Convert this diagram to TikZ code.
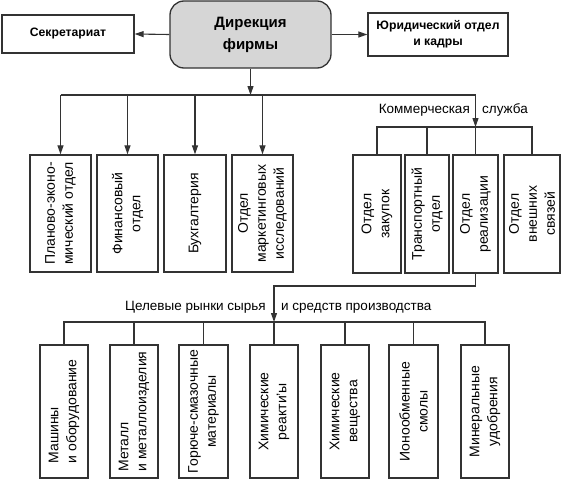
\documentclass[tikz,border=0pt]{standalone}
\usepackage{fontspec}
\setmainfont{Liberation Sans}
\usetikzlibrary{arrows.meta}
\definecolor{ink}{HTML}{333333}
\definecolor{dirfill}{HTML}{D6D6D6}
\begin{document}
\begin{tikzpicture}[x=1pt,y=-1pt,
  line/.style={draw=ink, line width=1.1pt},
  arr/.style={line, -{Triangle[length=9pt,width=6pt]}},
  box/.style={draw=ink, line width=1.3pt, inner sep=0pt, fill=white},
  topbox/.style={box, font=\fontsize{12.2}{16}\selectfont\bfseries, align=center},
  vt/.style={rotate=90, align=center, inner sep=0pt, font=\fontsize{14}{18}\selectfont},
  vtl/.style={vt, align=left},
  lbl/.style={inner sep=0pt, font=\fontsize{13.5}{16}\selectfont}]
\useasboundingbox (0,0) rectangle (566,479);
% top row
\node[topbox, minimum width=132pt, minimum height=38pt] (sec) at (68,34) {Секретариат};
\node[box, fill=dirfill, rounded corners=14pt, minimum width=161pt, minimum height=67pt,
  align=center, font=\fontsize{15}{22}\selectfont\bfseries] (dir) at (250.5,34.5) {Дирекция\\фирмы};
\node[topbox, minimum width=140pt, minimum height=43pt] (jur) at (438,34.5) {Юридический отдел\\и кадры};
\draw[arr] (dir.west) -- (sec.east);
\draw[arr] (dir.east) -- (jur.west);
% middle row boxes
\node[box, minimum width=61pt, minimum height=117pt] (b1) at (60.5,213.5) {};
\node[box, minimum width=61pt, minimum height=117pt] (b2) at (127.5,213.5) {};
\node[box, minimum width=62pt, minimum height=117pt] (b3) at (195,213.5) {};
\node[box, minimum width=61pt, minimum height=117pt] (b4) at (262.5,213.5) {};
\node[vt] (t1) at (b1) {Планово-эконо-\\мический отдел};
\node[vt] (t2) at (b2) {Финансовый\\отдел};
\node[vt] (t3) at (b3) {Бухгалтерия};
\node[vt] (t4) at (b4) {Отдел\\маркетинговых\\исследований};
\node[box, minimum width=48pt, minimum height=118pt] (c1) at (377,214) {};
\node[box, minimum width=44pt, minimum height=118pt] (c2) at (427,214) {};
\node[box, minimum width=45pt, minimum height=118pt] (c3) at (475.5,214) {};
\node[box, minimum width=56pt, minimum height=118pt] (c4) at (532,214) {};
\node[vt] (u1) at (c1) {Отдел\\закупок};
\node[vt] (u2) at (c2) {Транспортный\\отдел};
\node[vt] (u3) at (c3) {Отдел\\реализации};
\node[vt] (u4) at (c4) {Отдел\\внешних\\связей};
% bottom row boxes
\node[box, minimum width=48pt, minimum height=133pt] (m1) at (64,411.5) {};
\node[box, minimum width=48pt, minimum height=133pt] (m2) at (134,411.5) {};
\node[box, minimum width=49pt, minimum height=133pt] (m3) at (203.5,411.5) {};
\node[box, minimum width=48pt, minimum height=133pt] (m4) at (274,411.5) {};
\node[box, minimum width=48pt, minimum height=133pt] (m5) at (345,411.5) {};
\node[box, minimum width=49pt, minimum height=133pt] (m6) at (413.5,411.5) {};
\node[box, minimum width=48pt, minimum height=133pt] (m7) at (485,411.5) {};
\node[vtl] (s1) at (m1) {Машины\\и оборудование};
\node[vtl] (s2) at (m2) {Металл\\и металлоизделия};
\node[vt] (s3) at (m3) {Горюче-смазочные\\материалы};
\node[vt] (s4) at (m4) {Химические\\реакти'ы};
\node[vt] (s5) at (m5) {Химические\\вещества};
\node[vt] (s6) at (m6) {Ионообменные\\смолы};
\node[vt] (s7) at (m7) {Минеральные\\удобрения};
% connectors: direction to first level
\coordinate (hbar) at (0,95);
\coordinate (cbar) at (0,127);
\coordinate (mid) at (0,286);
\coordinate (mbar) at (0,322);
\draw[arr] (dir.south) -- (dir.south |- hbar);
\draw[line] (b1.north |- hbar) -- (c3.north |- hbar);
\foreach \b in {b1,b2,b3,b4} \draw[arr] (\b.north |- hbar) -- (\b.north);
\draw[arr] (c3.north |- hbar) -- (c3.north |- cbar);
\draw[line] (c1.north) -- (c1.north |- cbar) -- (c4.north |- cbar) -- (c4.north);
\foreach \b in {c2,c3} \draw[line] (\b.north |- cbar) -- (\b.north);
\node[lbl, anchor=base east] (kom) at (470,113) {Коммерческая};
\node[lbl, anchor=base west] (slu) at (482,113) {служба};
% sales to target markets
\draw[arr] (c3.south) -- (c3.south |- mid) -- (m4.north |- mid) -- (m4.north |- mbar);
\draw[line] (m1.north) -- (m1.north |- mbar) -- (m7.north |- mbar) -- (m7.north);
\foreach \b in {m2,m3,m4,m5,m6} \draw[line] (\b.north |- mbar) -- (\b.north);
\node[lbl, anchor=base east] (cel) at (266,310) {Целевые рынки сырья};
\node[lbl, anchor=base west] (sre) at (281,310) {и средств производства};
\end{tikzpicture}
\end{document}
